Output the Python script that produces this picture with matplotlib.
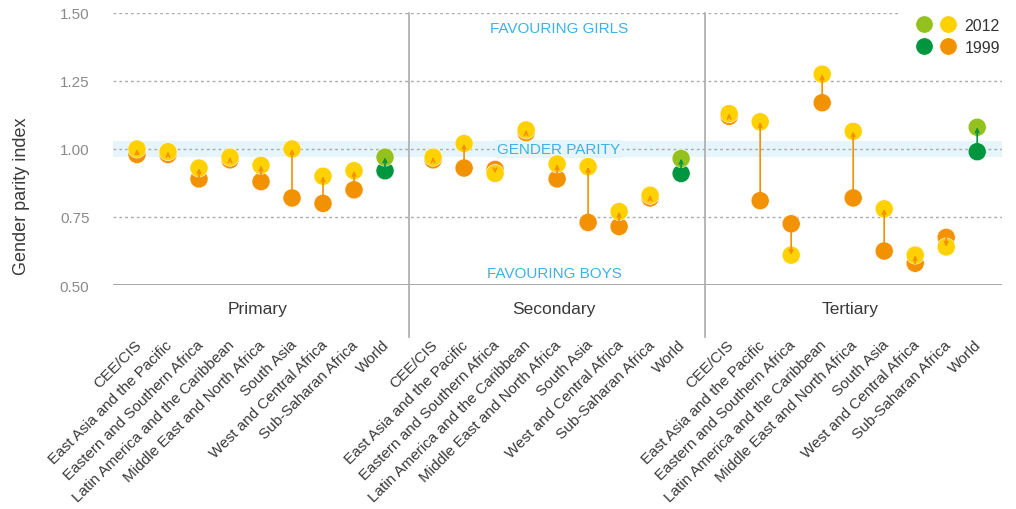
import matplotlib
matplotlib.use("Agg")
import matplotlib.pyplot as plt
from matplotlib.lines import Line2D
from matplotlib.legend_handler import HandlerTuple

plt.rcParams["font.family"] = ["Liberation Sans", "DejaVu Sans"]

# ---- data ----
levels = ["Primary", "Secondary", "Tertiary"]
regions = ["CEE/CIS", "East Asia and the Pacific", "Eastern and Southern Africa",
           "Latin America and the Caribbean", "Middle East and North Africa",
           "South Asia", "West and Central Africa", "Sub-Saharan Africa", "World"]

primary_1999 = [0.98, 0.98, 0.89, 0.96, 0.88, 0.82, 0.80, 0.85, 0.92]
primary_2012 = [1.00, 0.99, 0.93, 0.97, 0.94, 1.00, 0.90, 0.92, 0.97]
secondary_1999 = [0.96, 0.93, 0.925, 1.06, 0.89, 0.73, 0.715, 0.82, 0.91]
secondary_2012 = [0.97, 1.02, 0.91, 1.07, 0.945, 0.935, 0.77, 0.83, 0.965]
tertiary_1999 = [1.12, 0.81, 0.725, 1.17, 0.82, 0.625, 0.58, 0.675, 0.99]
tertiary_2012 = [1.13, 1.10, 0.61, 1.275, 1.065, 0.78, 0.61, 0.64, 1.08]

yticks = [0.50, 0.75, 1.00, 1.25, 1.50]

YELLOW, ORANGE = "#ffd100", "#f39200"
LGREEN, DGREEN = "#95c11f", "#009640"
BLUE_TXT, BAND = "#3db1e3", "#e6f4fb"
GRID = "#aaaaaa"

GROUP_STEP = 9.55  # distance between first items of consecutive groups

fig = plt.figure(figsize=(10.16, 5.10), dpi=100)
ax = fig.add_axes([113 / 1016, 1 - 286 / 510, 889 / 1016, 272 / 510])
ax.set_xlim(-0.774, 27.9)
ax.set_ylim(0.5, 1.5)

# background: parity band + grid
ax.axhspan(0.972, 1.028, color=BAND, zorder=0, lw=0)
for v in yticks[1:]:
    xmax = 0.885 if v == yticks[-1] else 1.0
    ax.axhline(v, xmax=xmax, color=GRID, lw=1, ls=(0, (2, 2.2)), zorder=1)
ax.axhline(yticks[0], color="#999999", lw=1.2, zorder=1)

series = [(primary_1999, primary_2012), (secondary_1999, secondary_2012),
          (tertiary_1999, tertiary_2012)]
for g, (old, new) in enumerate(series):
    xs = [g * GROUP_STEP + i for i in range(len(regions))]
    c_old = [DGREEN if r == "World" else ORANGE for r in regions]
    c_new = [LGREEN if r == "World" else YELLOW for r in regions]
    ax.scatter(xs, old, s=170, c=c_old, edgecolors="white", linewidths=0.4, zorder=3)
    ax.scatter(xs, new, s=170, c=c_new, edgecolors="white", linewidths=0.4, zorder=4)
    for x, a, b, r in zip(xs, old, new, regions):
        col = DGREEN if r == "World" else ORANGE
        ax.annotate("", xy=(x, b), xytext=(x, a), zorder=5,
                    arrowprops=dict(arrowstyle="->,head_length=0.25,head_width=0.12",
                                    color=col, lw=1.2, shrinkA=0, shrinkB=0))
    # category labels
    for x, r in zip(xs, regions):
        ax.text(x + 0.07, -0.21, r, transform=ax.get_xaxis_transform(), rotation=45,
                rotation_mode="anchor", ha="right", va="center", fontsize=11,
                color="#3a3a3a")
    ax.text(xs[0] + 3.9, -0.088, levels[g], transform=ax.get_xaxis_transform(),
            ha="center", va="center", fontsize=12.5, color="#3a3a3a")
    if g > 0:
        xd = (g - 1) * GROUP_STEP + 8 + (GROUP_STEP - 8) / 2
        ax.plot([xd, xd], [-0.19, 1.0], transform=ax.get_xaxis_transform(),
                color=GRID, lw=1.2, clip_on=False, zorder=2)

# annotation texts
mid = GROUP_STEP + 4
ax.text(mid + 0.05, 1.445, "FAVOURING GIRLS", ha="center", va="center",
        fontsize=11, color=BLUE_TXT)
ax.text(mid - 0.1, 0.545, "FAVOURING BOYS", ha="center", va="center",
        fontsize=11, color=BLUE_TXT)
ax.text(mid + 0.05, 1.0, "GENDER PARITY", ha="center", va="center", fontsize=11,
        color=BLUE_TXT, zorder=2,
        bbox=dict(facecolor=BAND, edgecolor="none", pad=1.5))

# axes styling
for s in ax.spines.values():
    s.set_visible(False)
ax.set_xticks([])
ax.set_yticks(yticks)
ax.set_yticklabels([f"{v:.2f}" for v in yticks])
ax.tick_params(axis="y", length=0, pad=17, labelsize=11, labelcolor="#8a8a8a")
fig.text(0.021, 0.616, "Gender parity index", rotation=90, ha="center", va="center",
         fontsize=13, color="#3a3a3a")

# legend
mk = dict(marker="o", ls="none", markersize=12.5, markeredgecolor="white",
          markeredgewidth=0.4)
h2012 = (Line2D([], [], color=LGREEN, **mk), Line2D([], [], color=YELLOW, **mk))
h1999 = (Line2D([], [], color=DGREEN, **mk), Line2D([], [], color=ORANGE, **mk))
ax.legend([h2012, h1999], ["2012", "1999"], loc="upper right",
          bbox_to_anchor=(1.014, 1.035), frameon=False, fontsize=11.5,
          handler_map={tuple: HandlerTuple(ndivide=None, pad=0.35)},
          handlelength=2.6, handletextpad=0.5, labelspacing=0.45,
          labelcolor="#333333")

fig.savefig("out.png", dpi=100)
